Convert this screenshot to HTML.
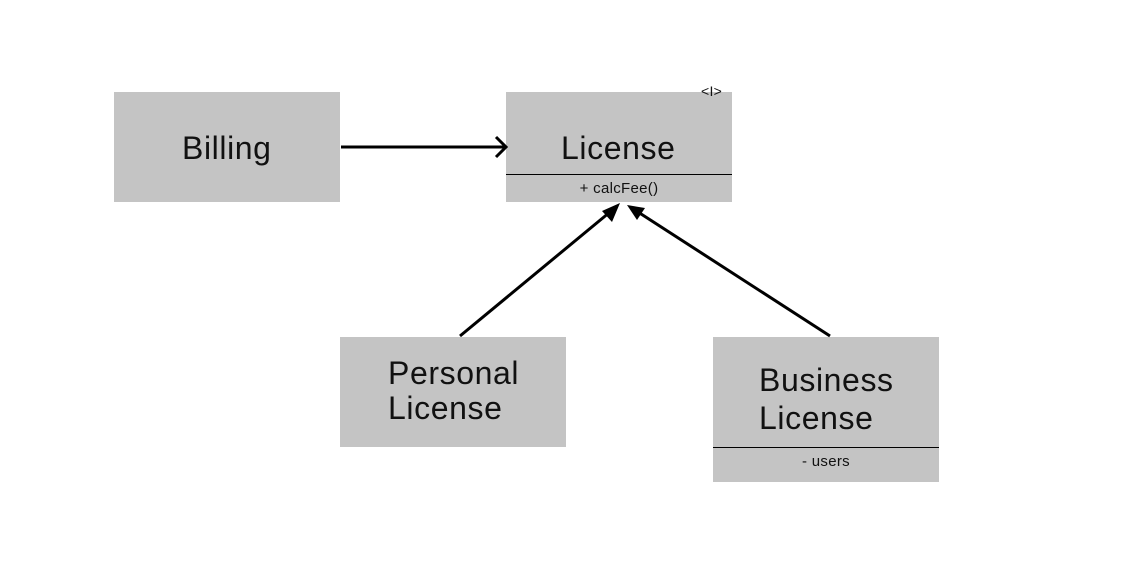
<!DOCTYPE html>
<html><head><meta charset="utf-8"><style>
body{margin:0;width:1136px;height:562px;background:#fff;position:relative;overflow:hidden;font-family:"Liberation Sans",sans-serif;color:#111}
.b{position:absolute;background:#c4c4c4}
.t{position:absolute;font-size:32px;line-height:36px;letter-spacing:0.6px}
.s{position:absolute;font-size:15px;text-align:center;letter-spacing:0.3px}
.l{position:absolute;height:1px;background:#000}
</style></head><body>
<div class="b" style="left:114px;top:92px;width:226px;height:110px"></div>
<div class="t" style="left:182px;top:130px">Billing</div>
<div class="b" style="left:506px;top:92px;width:226px;height:110px"></div>
<div class="t" style="left:561px;top:130px">License</div>
<div class="l" style="left:506px;top:174px;width:226px"></div>
<div class="s" style="left:506px;top:180px;width:226px">+ calcFee()</div>
<div class="s" style="left:701px;top:83px;font-size:14px">&lt;I&gt;</div>
<div class="b" style="left:340px;top:337px;width:226px;height:110px"></div>
<div class="t" style="left:388px;top:356px;line-height:35px">Personal<br>License</div>
<div class="b" style="left:713px;top:337px;width:226px;height:145px"></div>
<div class="t" style="left:759px;top:361px;line-height:38px">Business<br>License</div>
<div class="l" style="left:713px;top:447px;width:226px"></div>
<div class="s" style="left:713px;top:453px;width:226px">- users</div>
<svg width="1136" height="562" style="position:absolute;left:0;top:0">
<line x1="341" y1="147" x2="505" y2="147" stroke="#000" stroke-width="3"/>
<polyline points="496,137 506,147 496,157" fill="none" stroke="#000" stroke-width="3"/>
<line x1="460" y1="336" x2="610" y2="212" stroke="#000" stroke-width="3"/>
<polygon points="620,203 602,211 612,222" fill="#000"/>
<line x1="830" y1="336" x2="638" y2="212" stroke="#000" stroke-width="3"/>
<polygon points="627,205 637,220 645,208" fill="#000"/>
</svg>
</body></html>
